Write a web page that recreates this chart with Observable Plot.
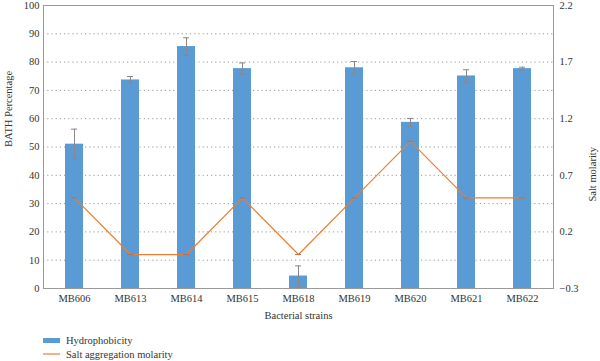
<!DOCTYPE html>
<html>
<head>
<meta charset="utf-8">
<script src="https://cdn.jsdelivr.net/npm/d3@7"></script>
<script src="https://cdn.jsdelivr.net/npm/@observablehq/plot@0.6"></script>
<style>
  body { margin: 0; background: #fff; font-family: 'Liberation Serif', 'Times New Roman', serif; }
  #wrap { position: relative; width: 600px; height: 361px; }
  .legend { position: absolute; left: 43px; font-size: 10.5px; color: #333; font-family: 'Liberation Serif', serif; }
  .legend div { display: flex; align-items: center; height: 14px; }
  .sw { display: inline-block; width: 17px; margin-right: 6px; }
  svg text { font-family: 'Liberation Serif', 'Times New Roman', serif; }
</style>
</head>
<body>
<div id="wrap"></div>
<script>
const strains = ["MB606","MB613","MB614","MB615","MB618","MB619","MB620","MB621","MB622"];
const hydrophobicity = [51, 73.7, 85.5, 77.7, 4.4, 78, 58.7, 75.1, 77.7];
const hydroError = [5.3, 1.2, 3.1, 2.0, 3.6, 2.2, 1.4, 2.2, 0.5];
const saltMolarity = [0.5, 0, 0, 0.5, 0, 0.5, 1.0, 0.5, 0.5];
const leftTicks = [0,10,20,30,40,50,60,70,80,90,100];
const rightTicks = [-0.3, 0.2, 0.7, 1.2, 1.7, 2.2];

const toLeft = s => (s + 0.3) / 2.5 * 100;
const data = strains.map((s, i) => ({
  strain: s, h: hydrophobicity[i], e: hydroError[i], salt: saltMolarity[i], saltY: toLeft(saltMolarity[i])
}));

const blue = "#5B9BD5", orange = "#ED7D31";

const chart = Plot.plot({
  width: 600, height: 330,
  marginLeft: 43, marginRight: 47, marginTop: 5, marginBottom: 42,
  style: { fontFamily: "'Liberation Serif', 'Times New Roman', serif", fontSize: "10px", color: "#333" },
  x: { domain: strains, paddingInner: 0.68, paddingOuter: 0.34, label: null },
  y: { domain: [0, 100], label: null },
  marks: [
    Plot.gridY(leftTicks.filter(d => d > 0 && d < 100), { stroke: "#999", strokeOpacity: 1, strokeDasharray: "1.2,3" }),
    Plot.barY(data, { x: "strain", y: "h", fill: blue }),
    Plot.ruleX(data, { x: "strain", y1: d => d.h - d.e, y2: d => d.h + d.e, stroke: "#888", strokeWidth: 1 }),
    Plot.tickY(data, { x: "strain", y: d => d.h + d.e, stroke: "#888", inset: 6 }),
    Plot.tickY(data, { x: "strain", y: d => d.h - d.e, stroke: "#888", inset: 6 }),
    Plot.line(data, { x: "strain", y: "saltY", stroke: orange, strokeWidth: 1.2 }),
    Plot.tickY(data, { x: "strain", y: "saltY", stroke: "#b07050", inset: 6 }),
    Plot.frame({ stroke: "#999" }),
    Plot.axisY(leftTicks, { anchor: "left", tickSize: 0, tickPadding: 4, label: null, fontSize: 10.5 }),
    Plot.axisY(rightTicks.map(toLeft), { anchor: "right", tickSize: 0, tickPadding: 6, label: null, fontSize: 10.5,
      tickFormat: (d) => { const v = Math.round((d / 100 * 2.5 - 0.3) * 10) / 10; return v < 0 ? "\u2212" + Math.abs(v) : String(v); } }),
    Plot.axisX({ tickSize: 0, tickPadding: 6, label: null, fontSize: 10.5 }),
    Plot.text(["Bacterial strains"], { frameAnchor: "bottom", dy: 30, fontSize: 10.5 }),
    Plot.text(["BATH Percentage"], { frameAnchor: "left", dx: -35, rotate: -90, fontSize: 10.5 }),
    Plot.text(["Salt molarity"], { frameAnchor: "right", dx: 39, rotate: -90, fontSize: 10.5 })
  ]
});

const wrap = document.getElementById("wrap");
wrap.appendChild(chart);
const legend = document.createElement("div");
legend.className = "legend";
legend.style.top = "333px";
legend.innerHTML = `<div><span class="sw" style="height:5px;background:${blue}"></span>Hydrophobicity</div>
<div><span class="sw" style="height:1.5px;background:${orange};opacity:0.6"></span>Salt aggregation molarity</div>`;
wrap.appendChild(legend);
</script>
</body>
</html>
